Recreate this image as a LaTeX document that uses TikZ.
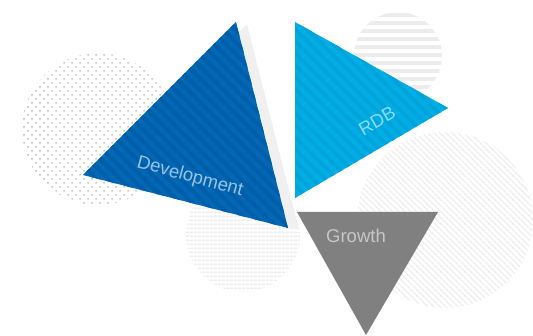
\documentclass[tikz,border=0pt]{standalone}
\usepackage{fontspec}
\setmainfont{Liberation Sans}
\usepackage{tikz}
\usetikzlibrary{patterns.meta}
\usepackage{xcolor}

\definecolor{devblue}{RGB}{0,104,183}
\definecolor{devstripe}{RGB}{0,94,168}
\definecolor{rdbblue}{RGB}{0,174,230}
\definecolor{rdbstripe}{RGB}{0,164,218}
\definecolor{growthgray}{RGB}{128,128,128}
\definecolor{dotgray}{RGB}{200,200,200}
\definecolor{linegray}{RGB}{236,236,236}
\definecolor{shadowgray}{RGB}{240,240,240}

\tikzset{
  dotdisc/.style={pattern={Dots[radius=1.1pt,distance=5.66pt,angle=45]},pattern color=dotgray},
  linedisc/.style={pattern={Lines[angle=0,distance=4pt,line width=2pt]},pattern color=linegray},
  widelinedisc/.style={pattern={Lines[angle=0,distance=8pt,line width=4pt]},pattern color=linegray},
  slantdisc/.style={pattern={Lines[angle=-45,distance=4pt,line width=1.6pt]},pattern color=linegray},
  label/.style={font=\fontsize{18.5}{22}\selectfont,inner sep=0pt}
}

\begin{document}
\begin{tikzpicture}[x=1pt,y=1pt]
        \useasboundingbox (0,0) rectangle (533,335);
        % Background discs
        \fill[dotdisc] (98,206) circle (76);
        \fill[widelinedisc] (398,279) circle (44);
        \fill[slantdisc] (445,115) circle (88);
        \fill[linedisc] (243,100) circle (57);
        % Shadow behind Development
        \fill[shadowgray] (247,311) -- (94,158) -- (299,105) -- cycle;
        % Development
        \fill[devblue] (236,313) -- (83,160) -- (288,107) -- cycle;
        \fill[pattern={Lines[angle=-45,distance=8.5pt,line width=4pt]},pattern color=devstripe]
            (236,313) -- (83,160) -- (288,107) -- cycle;
        \node[label,text=devblue!40!white,rotate=-15] (dev) at (190,158) {Development};
        % RDB
        \fill[rdbblue] (295,313) -- (295,137) -- (448,227) -- cycle;
        \fill[pattern={Lines[angle=-45,distance=8.5pt,line width=4pt]},pattern color=rdbstripe]
            (295,313) -- (295,137) -- (448,227) -- cycle;
        \node[label,text=rdbblue!45!white,rotate=30] (rdb) at (377,214) {RDB};
        % Growth
        \fill[growthgray] (297,123) -- (438,123) -- (366,0) -- cycle;
        \node[label,text=black!22] (growth) at (356,99) {Growth};
    \end{tikzpicture}
\end{document}
